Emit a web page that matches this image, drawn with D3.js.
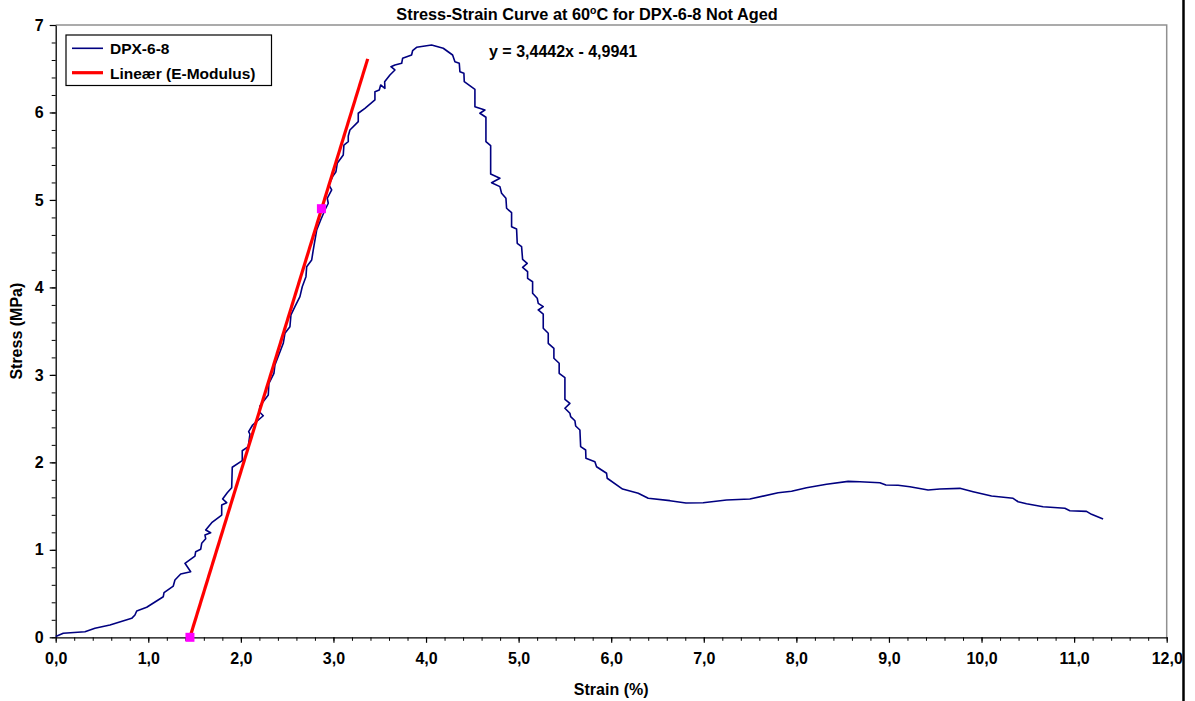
<!DOCTYPE html>
<html>
<head>
<meta charset="utf-8">
<script src="https://cdn.jsdelivr.net/npm/d3@7"></script>
<style>
  html, body { margin: 0; padding: 0; background: #fff; }
  svg { display: block; }
  text { font-family: "Liberation Sans", Arial, sans-serif; font-weight: bold; fill: #000; }
</style>
</head>
<body>
<svg id="chart" width="1195" height="701"></svg>
<script>
// ---- Data ----
const chartTitle = "Stress-Strain Curve at 60";
const xTitle = "Strain (%)";
const yTitle = "Stress (MPa)";
const seriesName = "DPX-6-8";
const trendName = "Lineær (E-Modulus)";
const equationText = "y = 3,4442x - 4,9941";

const xTicks = [0,1,2,3,4,5,6,7,8,9,10,11,12];
const yTicks = [0,1,2,3,4,5,6,7];

const strain = [0.00,0.082,0.316,0.424,0.586,0.821,0.856,0.875,0.983,1.162,1.170,1.270,1.288,1.350,1.458,1.396,1.504,1.512,1.566,1.577,1.620,1.612,1.674,1.620,1.685,1.793,1.793,1.847,1.803,1.853,1.901,1.907,2.015,2.015,2.080,2.098,2.084,2.127,2.242,2.199,2.206,2.296,2.303,2.357,2.368,2.458,2.476,2.530,2.541,2.584,2.638,2.663,2.703,2.711,2.765,2.782,2.819,2.862,2.908,2.944,2.933,2.981,2.951,2.991,3.027,3.041,3.106,3.113,3.160,3.160,3.178,3.268,3.268,3.340,3.448,3.448,3.495,3.510,3.556,3.553,3.610,3.664,3.621,3.664,3.737,3.747,3.844,3.855,3.898,4.060,4.186,4.287,4.312,4.359,4.366,4.409,4.413,4.528,4.528,4.636,4.582,4.647,4.647,4.698,4.698,4.798,4.708,4.798,4.816,4.863,4.870,4.924,4.924,4.978,4.985,5.032,5.043,5.093,5.043,5.097,5.097,5.151,5.151,5.201,5.212,5.266,5.212,5.266,5.266,5.320,5.320,5.381,5.381,5.438,5.438,5.500,5.500,5.554,5.500,5.554,5.562,5.608,5.616,5.662,5.670,5.724,5.727,5.824,5.842,5.950,5.957,6.123,6.292,6.400,6.634,6.807,6.993,7.246,7.498,7.803,7.948,8.110,8.326,8.559,8.686,8.902,8.967,9.099,9.226,9.423,9.550,9.766,9.909,10.108,10.341,10.395,10.486,10.665,10.900,10.954,11.134,11.188,11.313];
const stress = [0.01,0.046,0.064,0.103,0.141,0.217,0.255,0.301,0.343,0.464,0.510,0.586,0.655,0.724,0.750,0.846,0.929,0.979,1.006,1.075,1.127,1.170,1.196,1.227,1.310,1.398,1.513,1.539,1.581,1.653,1.710,1.944,2.019,2.133,2.179,2.324,2.351,2.427,2.533,2.579,2.644,2.770,2.904,3.018,3.113,3.361,3.475,3.551,3.685,3.780,3.894,4.008,4.123,4.237,4.314,4.428,4.656,4.771,4.885,4.962,5.019,5.114,5.171,5.266,5.323,5.419,5.514,5.628,5.666,5.731,5.800,5.895,5.991,6.048,6.143,6.238,6.257,6.314,6.276,6.352,6.428,6.486,6.523,6.543,6.562,6.619,6.657,6.706,6.745,6.771,6.734,6.657,6.581,6.562,6.466,6.448,6.352,6.265,6.066,6.028,5.991,5.945,5.666,5.620,5.297,5.248,5.197,5.152,5.076,5.019,4.905,4.854,4.694,4.668,4.504,4.466,4.321,4.276,4.230,4.180,4.104,4.065,3.933,3.876,3.818,3.780,3.742,3.696,3.533,3.476,3.361,3.304,3.190,3.133,3.018,2.968,2.721,2.675,2.618,2.561,2.522,2.476,2.416,2.370,2.179,2.141,2.046,2.008,1.950,1.875,1.818,1.695,1.646,1.589,1.562,1.535,1.539,1.570,1.581,1.653,1.669,1.710,1.749,1.783,1.779,1.767,1.741,1.738,1.722,1.684,1.695,1.703,1.665,1.615,1.589,1.550,1.527,1.493,1.475,1.447,1.440,1.406,1.352];

// Linear fit (E-modulus) and its two marked points
const trendSlope = 3.4442;
const trendIntercept = -4.9941;
const trendRange = [1.45, 3.37];
const markerStrain = [1.45, 2.87];
const markerStress = [0.0, 4.9];

// ---- Layout ----
const svg = d3.select("#chart");
const L = 55.7, R = 1166.7, T = 25, B = 637.3;
const x = d3.scaleLinear().domain([0, 12]).range([L, R]);
const y = d3.scaleLinear().domain([0, 7]).range([B, T]);
const fmtX = v => d3.format(".1f")(v).replace(".", ",");

// outer right border of chart area
svg.append("line").attr("x1", 1183.5).attr("x2", 1183.5).attr("y1", 0).attr("y2", 701)
  .attr("stroke", "#000").attr("stroke-width", 2.5);

// plot-area border (top and right gray)
svg.append("path")
  .attr("d", `M${L},${T}H${R}V${B}`)
  .attr("fill", "none").attr("stroke", "#909090").attr("stroke-width", 1.5);

// minor ticks
svg.append("g").attr("transform", `translate(0,${B})`)
  .call(d3.axisBottom(x).tickValues(d3.range(0, 12.001, 0.2)).tickSize(3.5).tickFormat(""))
  .call(g => g.select(".domain").remove())
  .selectAll("line").attr("stroke", "#000");
svg.append("g").attr("transform", `translate(${L},0)`)
  .call(d3.axisLeft(y).tickValues(d3.range(0, 7.001, 0.2)).tickSize(4).tickFormat(""))
  .call(g => g.select(".domain").remove())
  .selectAll("line").attr("stroke", "#000");

// major axes
const xAxis = svg.append("g").attr("transform", `translate(0,${B})`)
  .call(d3.axisBottom(x).tickValues(xTicks).tickSizeInner(5.5).tickSizeOuter(0).tickPadding(18).tickFormat(fmtX));
const yAxis = svg.append("g").attr("transform", `translate(${L},0)`)
  .call(d3.axisLeft(y).tickValues(yTicks).tickSizeInner(6).tickSizeOuter(0).tickPadding(6).tickFormat(d3.format("d")));
[xAxis, yAxis].forEach(a => {
  a.select(".domain").attr("stroke", "#000").attr("stroke-width", 1.3);
  a.selectAll(".tick line").attr("stroke", "#000").attr("stroke-width", 1.2);
  a.selectAll(".tick text").attr("font-size", 16).attr("font-family", "Liberation Sans, Arial, sans-serif")
    .attr("font-weight", "bold").attr("fill", "#000");
});
xAxis.selectAll(".tick text").attr("dy", "0.2em");

// curve
const pts = strain.map((s, i) => [s, stress[i]]);
svg.append("path").datum(pts)
  .attr("d", d3.line().x(d => x(d[0])).y(d => y(d[1])))
  .attr("fill", "none").attr("stroke", "#000080").attr("stroke-width", 1.6)
  .attr("stroke-linejoin", "round");

// trendline
const trendPts = trendRange.map(v => [v, trendSlope * v + trendIntercept]);
svg.append("path").datum(trendPts)
  .attr("d", d3.line().x(d => x(d[0])).y(d => y(d[1])))
  .attr("fill", "none").attr("stroke", "#ff0000").attr("stroke-width", 3.2);

// markers
svg.selectAll("rect.mk").data(markerStrain.map((s, i) => [s, markerStress[i]])).enter()
  .append("rect").attr("class", "mk")
  .attr("x", d => x(d[0]) - 4.5).attr("y", d => y(d[1]) - 4.5)
  .attr("width", 9).attr("height", 9).attr("fill", "#ff00ff");

// title
const t = svg.append("text").attr("x", 587).attr("y", 20).attr("text-anchor", "middle").attr("font-size", 16.3);
t.append("tspan").text(chartTitle);
t.append("tspan").attr("font-size", 10.5).attr("dy", -6).text("o");
t.append("tspan").attr("dy", 6).text("C for DPX-6-8 Not Aged");

// axis titles
svg.append("text").attr("x", (L + R) / 2).attr("y", 695).attr("text-anchor", "middle")
  .attr("font-size", 16).text(xTitle);
svg.append("text").attr("transform", `translate(22,${(T + B) / 2}) rotate(-90)`)
  .attr("text-anchor", "middle").attr("font-size", 16).text(yTitle);

// equation
svg.append("text").attr("x", 489).attr("y", 57).attr("font-size", 16).text(equationText);

// legend
const lg = svg.append("g");
lg.append("rect").attr("x", 66).attr("y", 35).attr("width", 205.5).attr("height", 50.5)
  .attr("fill", "#fff").attr("stroke", "#000").attr("stroke-width", 1.2);
lg.append("line").attr("x1", 72).attr("x2", 103).attr("y1", 48.3).attr("y2", 48.3)
  .attr("stroke", "#000080").attr("stroke-width", 1.6);
lg.append("text").attr("x", 110).attr("y", 54).attr("font-size", 15.5).text(seriesName);
lg.append("line").attr("x1", 72).attr("x2", 103).attr("y1", 72.7).attr("y2", 72.7)
  .attr("stroke", "#ff0000").attr("stroke-width", 3.2);
lg.append("text").attr("x", 110).attr("y", 78.5).attr("font-size", 15.5).text(trendName);
</script>
</body>
</html>
